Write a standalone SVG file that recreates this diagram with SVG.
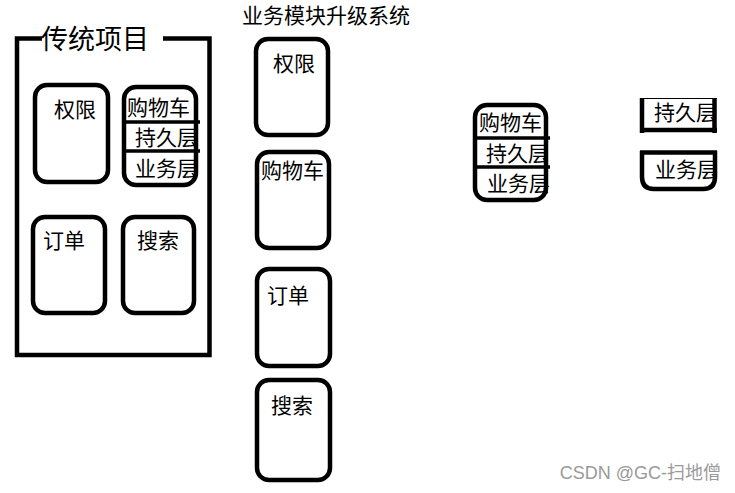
<svg xmlns="http://www.w3.org/2000/svg" width="735" height="493" viewBox="0 0 735 493">
<style>
text{font-family:"Noto Sans CJK SC","Noto Sans",sans-serif;fill:#000;font-size:21px}
.box{fill:none;stroke:#000;stroke-width:4.5}
.ln{fill:none;stroke:#000;stroke-width:3.5}
.big{font-size:27px}
.wm{font-family:"Liberation Sans","Noto Sans CJK SC",sans-serif;font-size:18px;fill:#9a9a9a}
</style>
<rect width="735" height="493" fill="#fff"/>
<g id="traditional">
<path class="box" d="M42,38.5 H17 V355 H209.5 V38.5 H163"/>
<text class="big" x="41" y="49">传统项目</text>
</g>
<g id="t-auth"><text x="54" y="117">权限</text><rect class="box" x="35" y="85" width="73" height="97" rx="12"/></g>
<g id="t-cart">
<text x="127" y="115">购物车</text><text x="135" y="145">持久层</text><text x="135" y="176">业务层</text>
<rect class="box" x="124" y="87" width="72" height="98" rx="12"/>
</g>
<g id="t-order"><text x="43" y="248">订单</text><rect class="box" x="33" y="217" width="72" height="96" rx="12"/></g>
<g id="t-search"><text x="137" y="248">搜索</text><rect class="box" x="123" y="217" width="71" height="96" rx="12"/></g>
<g id="upgrade-title"><text x="242" y="23">业务模块升级系统</text></g>
<g id="m-auth"><text x="273" y="71">权限</text><rect class="box" x="256" y="39" width="72" height="96" rx="12"/></g>
<g id="m-cart"><text x="261" y="178">购物车</text><rect class="box" x="257" y="152" width="72" height="96" rx="12"/></g>
<g id="m-order"><text x="267" y="303">订单</text><rect class="box" x="257" y="269" width="73" height="97" rx="12"/></g>
<g id="m-search"><text x="271" y="413">搜索</text><rect class="box" x="257" y="380" width="73" height="100" rx="12"/></g>
<g id="r-cart">
<text x="479" y="130">购物车</text><text x="486" y="161">持久层</text><text x="487" y="191">业务层</text>
<rect class="box" x="475" y="105" width="71" height="95" rx="12"/>
</g>
<g id="r-persist">
<text x="654" y="120">持久层</text>
<path class="box" d="M642,98 V133 M714.5,98 V133 M640,130 H717"/>
<path fill="none" stroke="#000" stroke-width="1" d="M640,98.5 H717"/>
</g>
<g id="r-business">
<text x="655" y="177">业务层</text>
<path class="box" d="M642,151 V177 Q642,189 654,189 H703 Q715,189 715,177 V151 M640,152.5 H717"/>
</g>
<g id="connectors">
<path class="ln" d="M122,122 H200 M122,151 H200 M473,138 H550 M473,167 H550"/>
</g>
<text class="wm" x="721" y="479" text-anchor="end">CSDN @GC-扫地僧</text>
</svg>
